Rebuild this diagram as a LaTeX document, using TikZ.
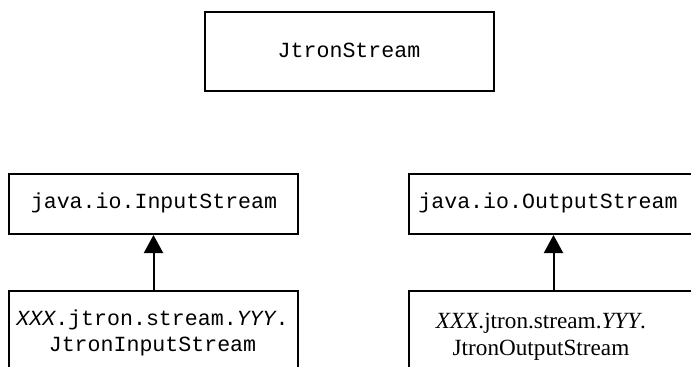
\documentclass[tikz,border=0pt]{standalone}
\usepackage{fontspec}
\setmainfont{Liberation Serif}
\setmonofont{Liberation Mono}
\usetikzlibrary{arrows.meta}
\begin{document}
\begin{tikzpicture}[x=0.5pt,y=-0.5pt,
  box/.style={draw,line width=1pt,minimum width=144.5pt,inner sep=0pt,anchor=north west},
  mono/.style={font=\ttfamily\fontsize{10.8}{13}\selectfont,align=center,inner sep=0pt},
  serif/.style={font=\fontsize{11.6}{13.5}\selectfont,align=center,inner sep=0pt},
  inherit/.style={-{Triangle[length=9pt,width=9.5pt]},line width=1pt}]
\useasboundingbox (0,0) rectangle (691,366);
\clip (0,0) rectangle (691,366);
% class boxes
\node[box,minimum height=39.5pt] (js) at (204,11) {};
\node[box,minimum height=30pt] (is) at (8,173) {};
\node[box,minimum height=30pt] (os) at (408,173) {};
\node[box,minimum height=50pt] (ib) at (8,290) {};
\node[box,minimum height=50pt] (ob) at (408,290) {};
% class names
\node[mono] (jsl) at (349,50.5) {JtronStream};
\node[mono] (isl) at (154,203) {java.io.InputStream};
\node[mono] (osl) at (548,203) {java.io.OutputStream};
\node[mono] (ibl) at (152.5,333) {\textit{XXX}.jtron.stream.\textit{YYY}.\\JtronInputStream};
\node[serif] (obl) at (541,337) {\textit{XXX}.jtron.stream.\textit{YYY}.\\JtronOutputStream};
% inheritance arrows
\draw[inherit] (ib.north) -- (is.south);
\draw[inherit] (ob.north) -- (os.south);
\end{tikzpicture}
\end{document}
